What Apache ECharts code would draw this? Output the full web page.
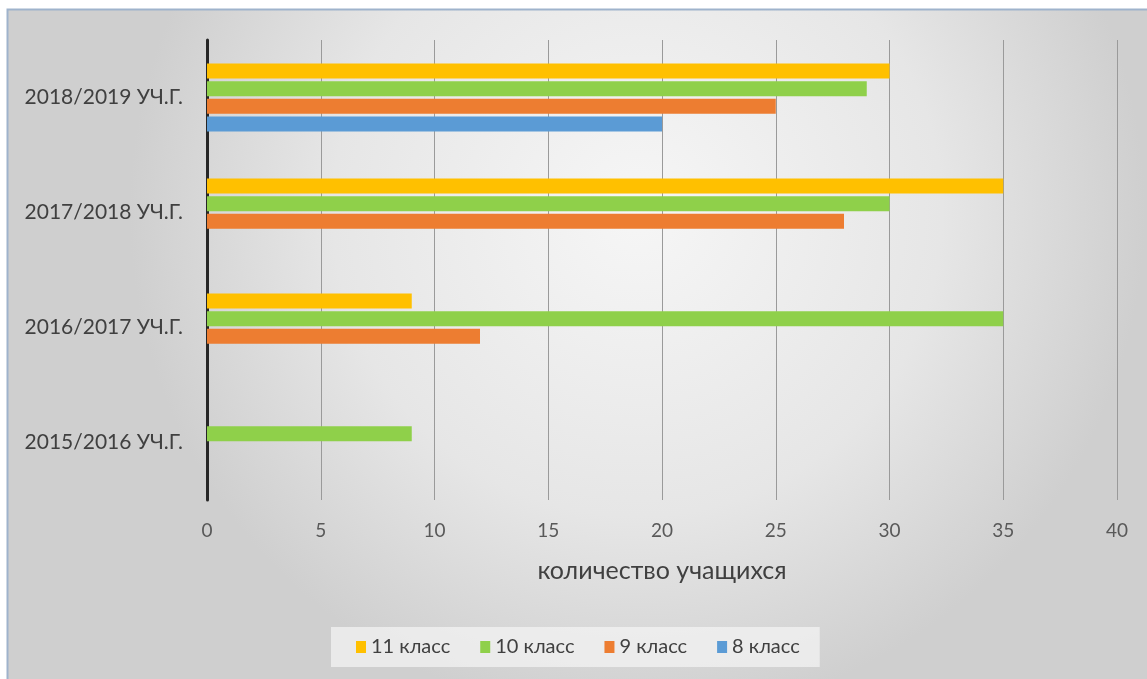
<!DOCTYPE html>
<html><head><meta charset="utf-8">
<script src="https://cdn.jsdelivr.net/npm/echarts@6/dist/echarts.min.js"></script>
<style>html,body{margin:0;padding:0;background:#fff}#c{width:1147px;height:679px}</style>
</head><body><div id="c"></div>
<script>
const categories = ['2015/2016 УЧ.Г.', '2016/2017 УЧ.Г.', '2017/2018 УЧ.Г.', '2018/2019 УЧ.Г.'];
const seriesNames = ['11 класс', '10 класс', '9 класс', '8 класс'];
const class11 = [0, 9, 35, 30];
const class10 = [9, 35, 30, 29];
const class9 = [0, 12, 28, 25];
const class8 = [0, 0, 0, 20];
const xTicks = [0, 5, 10, 15, 20, 25, 30, 35, 40];
const colors = ['#FFC000', '#8FD04A', '#ED7D31', '#5B9BD5'];
const values = [class11, class10, class9, class8];
const font = 'Lato, "Open Sans", sans-serif';

const chart = echarts.init(document.getElementById('c'));
chart.setOption({
  animation: false,
  graphic: [{
    type: 'rect', z: -10, silent: true,
    shape: {x: 7.5, y: 9.5, width: 1145, height: 675},
    style: {
      fill: {type: 'radial', x: 0.55, y: 0.3, r: 0.75,
        colorStops: [{offset: 0, color: '#f6f6f6'}, {offset: 0.6, color: '#e6e6e6'}, {offset: 1, color: '#cfcfcf'}]},
      stroke: '#9fb3cc', lineWidth: 2
    }
  }],
  grid: {left: 207, right: 30, top: 40, bottom: 179, containLabel: false},
  xAxis: {
    type: 'value', min: xTicks[0], max: xTicks[xTicks.length - 1], interval: 5,
    name: 'количество учащихся', nameLocation: 'middle', nameGap: 58,
    nameTextStyle: {fontFamily: font, fontSize: 25, color: '#404040'},
    axisLine: {show: false}, axisTick: {show: false},
    axisLabel: {fontFamily: font, fontSize: 19, color: '#595959', margin: 21},
    splitLine: {show: true, lineStyle: {color: '#9a9a9a', width: 1}}
  },
  yAxis: {
    type: 'category', data: categories,
    axisLine: {show: true, lineStyle: {color: '#262626', width: 3}},
    axisTick: {show: false},
    axisLabel: {fontFamily: font, fontSize: 21, color: '#404040', margin: 24}
  },
  legend: {
    data: seriesNames, bottom: 12, left: 331,
    itemWidth: 10, itemHeight: 12, itemGap: 30, icon: 'rect',
    backgroundColor: 'rgba(245,245,245,0.7)', padding: [10, 20, 10, 25],
    textStyle: {fontFamily: font, fontSize: 20, color: '#404040'}
  },
  series: seriesNames.map((n, i) => ({
    name: n, type: 'bar', data: values[i], barWidth: 15, barGap: '18%',
    itemStyle: {color: colors[i]}
  }))
});
</script></body></html>
